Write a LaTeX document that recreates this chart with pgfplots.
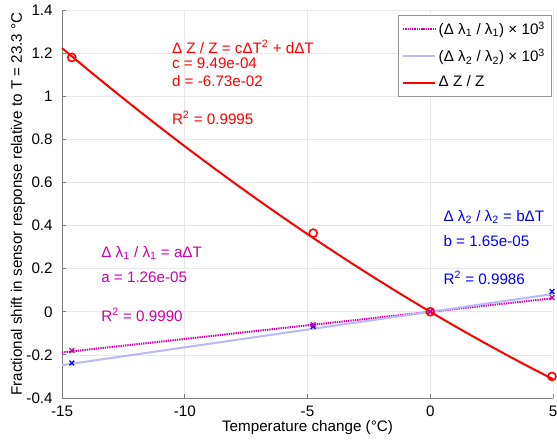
\documentclass[border=0pt]{standalone}
\usepackage{fontspec}
\setmainfont{Liberation Sans}
\usepackage{pgfplots}
\pgfplotsset{compat=1.18}

\definecolor{magfit}{RGB}{204,0,170}
\definecolor{lightblu}{RGB}{185,185,250}
\definecolor{axgray}{RGB}{128,128,128}
\definecolor{gridgray}{RGB}{232,232,232}
\definecolor{leggray}{RGB}{150,150,150}

\newcommand{\fs}{\fontsize{11.4}{13.5}\selectfont}

\begin{document}
\fs
\begin{tikzpicture}
	\begin{axis}[
		scale only axis,
		width=368.25pt, height=291pt,
		xmin=-15, xmax=5,
		ymin=-0.4, ymax=1.4,
		xtick={-15,-10,-5,0,5},
		ytick={-0.4,-0.2,0,0.2,0.4,0.6,0.8,1,1.2,1.4},
		axis x line*=bottom, axis y line*=left,
		axis line style={axgray, line width=0.6pt, -},
		tick style={axgray, line width=0.6pt},
		tick align=inside, major tick length=3pt,
		grid=major,
		major grid style={gridgray, line width=0.5pt},
		/pgf/number format/assume math mode=true,
		tick label style={font=\fs},
		yticklabel style={xshift=-3pt},
		xticklabel style={yshift=-2.2pt},
		xlabel={Temperature change (°C)},
		ylabel={Fractional shift in sensor response relative to T = 23.3 °C},
		label style={font=\fs},
		xlabel style={at={(axis description cs:0.5,-0.0773)}, anchor=center},
		ylabel style={at={(axis description cs:-0.0896,0.5)}, anchor=center},
		clip=false,
		legend style={at={(rel axis cs:1,1)}, anchor=north east,
			xshift=-0.75pt, yshift=-3.75pt,
			draw=leggray, fill=white, font=\fs,
			inner sep=3pt, row sep=5pt},
		legend cell align=left,
		legend image code/.code={\draw[#1] (0pt,0pt) -- (24pt,0pt);},
		]
		% fit lines
		\addplot[magfit, line width=1.5pt, dash pattern=on 1pt off 0.7pt] coordinates {(-15,-0.189) (5,0.063)};
		\addlegendentry{(Δ λ\textsubscript{1} / λ\textsubscript{1}) × 10\textsuperscript{3}}
		\addplot[lightblu, line width=1.5pt] coordinates {(-15,-0.2475) (5,0.0825)};
		\addlegendentry{(Δ λ\textsubscript{2} / λ\textsubscript{2}) × 10\textsuperscript{3}}
		\addplot[red, line width=1.5pt, smooth] coordinates {
			(-15,1.2230) (-14,1.1282) (-13,1.0353) (-12,0.9443) (-11,0.8551)
			(-10,0.7679) (-9,0.6826) (-8,0.5991) (-7,0.5176) (-6,0.4380)
			(-5,0.3602) (-4,0.2844) (-3,0.2104) (-2,0.1384) (-1,0.0682)
			(0,0) (1,-0.0664) (2,-0.1308) (3,-0.1934) (4,-0.2540) (5,-0.3128)};
		\addlegendentry{Δ Z / Z}

		% measured points
		\addplot[only marks, blue, mark=x, mark size=2.5pt, line width=1pt, forget plot] coordinates {
			(-14.6,-0.238) (-4.77,-0.068) (0,0) (4.96,0.094)};
		\addplot[only marks, magfit, mark=x, mark size=2.5pt, line width=1pt, forget plot] coordinates {
			(-14.6,-0.180) (-4.77,-0.060) (0,0) (4.96,0.066)};
		\addplot[only marks, red, mark=o, mark size=3pt, line width=1.2pt, forget plot] coordinates {
			(-14.6,1.18) (-4.77,0.365) (0,0) (4.96,-0.30)};

		% annotations
		\begin{scope}[every node/.style={anchor=west, inner sep=0pt, font=\fs}]
			\node[red] at (axis cs:-10.53,1.229) {Δ Z / Z = cΔT\textsuperscript{2} + dΔT};
			\node[red] at (axis cs:-10.53,1.155) {c = 9.49e-04};
			\node[red] at (axis cs:-10.53,1.071) {d = -6.73e-02};
			\node[red] at (axis cs:-10.53,0.900) {R\textsuperscript{2} = 0.9995};

			\node[magfit] at (axis cs:-13.41,0.274) {Δ λ\textsubscript{1} / λ\textsubscript{1} = aΔT};
			\node[magfit] at (axis cs:-13.41,0.158) {a = 1.26e-05};
			\node[magfit] at (axis cs:-13.41,-0.014) {R\textsuperscript{2} = 0.9990};

			\node[blue] at (axis cs:0.53,0.440) {Δ λ\textsubscript{2} / λ\textsubscript{2} = bΔT};
			\node[blue] at (axis cs:0.53,0.330) {b = 1.65e-05};
			\node[blue] at (axis cs:0.53,0.158) {R\textsuperscript{2} = 0.9986};
		\end{scope}
	\end{axis}
	\path (current axis.south west) ++(-46.5pt,-33pt) coordinate (bl);
	\path (current axis.north east) ++(3pt,7.5pt) coordinate (tr);
	\pgfresetboundingbox
	\path[use as bounding box] (bl) rectangle (tr);
\end{tikzpicture}
\end{document}
